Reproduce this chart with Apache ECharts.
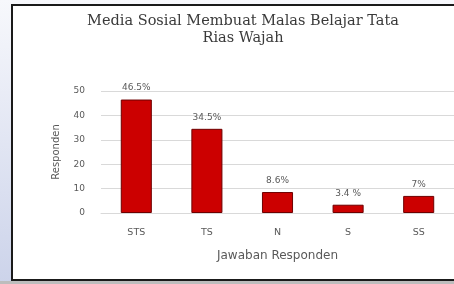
<!DOCTYPE html>
<html>
<head>
<meta charset="utf-8">
<script src="https://cdn.jsdelivr.net/npm/echarts@6/dist/echarts.min.js"></script>
<style>
  html, body { margin: 0; padding: 0; background: #f4f6fb; }
  #chart { width: 454px; height: 284px; }
</style>
</head>
<body>
<div id="chart"></div>
<script>
// kategori jawaban
const categories = ['STS', 'TS', 'N', 'S', 'SS']
// persentase responden
const values = [46.5, 34.5, 8.6, 3.4, 7]
// label di atas batang (seperti di gambar asli)
const barLabels = ['46.5%', '34.5%', '8.6%', '3.4 %', '7%']
const yTicks = [0, 10, 20, 30, 40, 50]

const chart = echarts.init(document.getElementById('chart'))

chart.setOption({
  animation: false,
  backgroundColor: {
    type: 'linear', x: 0, y: 0, x2: 0, y2: 1,
    colorStops: [{ offset: 0, color: '#f7f8fc' }, { offset: 1, color: '#ccd3ea' }]
  },
  graphic: [
    {
      type: 'rect',
      z: -10,
      shape: { x: 12, y: 5, width: 460, height: 275 },
      style: { fill: '#ffffff', stroke: '#1a1a1a', lineWidth: 2 }
    },
    {
      type: 'rect',
      z: -10,
      shape: { x: 0, y: 281, width: 454, height: 3 },
      style: { fill: '#bdbdbd' }
    }
  ],
  title: {
    text: 'Media Sosial Membuat Malas Belajar Tata\nRias Wajah',
    left: 238,
    top: 8,
    textAlign: 'center',
    textStyle: {
      fontFamily: 'DejaVu Serif',
      fontSize: 14.5,
      lineHeight: 17,
      fontWeight: 'normal',
      color: '#3a3a3a'
    }
  },
  grid: {
    left: 101,
    right: -5,
    top: 91,
    bottom: 71
  },
  xAxis: {
    type: 'category',
    data: categories,
    name: 'Jawaban Responden',
    nameLocation: 'middle',
    nameGap: 37,
    nameTextStyle: { fontFamily: 'DejaVu Sans', fontSize: 12, color: '#595959' },
    axisLine: { show: true, lineStyle: { color: '#d9d9d9' } },
    axisTick: { show: false },
    axisLabel: { fontFamily: 'DejaVu Sans', fontSize: 9.5, color: '#595959', margin: 15 }
  },
  yAxis: {
    type: 'value',
    min: yTicks[0],
    max: yTicks[yTicks.length - 1],
    interval: 10,
    name: 'Responden',
    nameLocation: 'middle',
    nameGap: 40,
    nameTextStyle: { fontFamily: 'DejaVu Sans', fontSize: 10, color: '#595959' },
    axisLine: { show: false },
    axisTick: { show: false },
    axisLabel: { fontFamily: 'DejaVu Sans', fontSize: 9, color: '#595959', margin: 16 },
    splitLine: { lineStyle: { color: '#d9d9d9' } }
  },
  series: [
    {
      type: 'bar',
      data: values,
      barWidth: '44%',
      itemStyle: { color: '#cc0000', borderColor: '#6e0000', borderWidth: 1 },
      label: {
        show: true,
        position: 'top',
        distance: 7,
        fontFamily: 'DejaVu Sans',
        fontSize: 9,
        color: '#595959',
        formatter: p => barLabels[p.dataIndex]
      }
    }
  ]
})
</script>
</body>
</html>
